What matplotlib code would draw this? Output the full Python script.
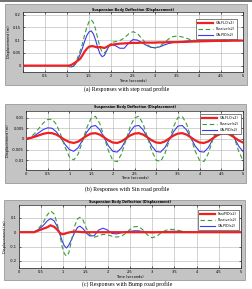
import matplotlib
matplotlib.use("Agg")
import matplotlib.pyplot as plt
from matplotlib.patches import Rectangle
from matplotlib.lines import Line2D

# ---------------- data ----------------
labels = ["GA-FLC(s2)", "Passive(s2)", "GA-PID(s2)"]
labels_c = ["FastPID(s2)", "Passive(s2)", "GA-PID(s2)"]
title_txt = "Suspension Body Deflection (Displacement)"
xlabel_txt = "Time (seconds)"
ylabel_txt = "Displacement (m)"
captions = ["(a) Responses with step road profile",
            "(b) Responses with Sin road profile",
            "(c) Responses with Bump road profile"]

# (a) step
t1 = [0, 0.5, 1.0, 1.05, 1.1, 1.15, 1.2, 1.25, 1.3, 1.35, 1.4, 1.45, 1.5, 1.55, 1.6,
      1.65, 1.7, 1.75, 1.8, 1.85, 1.9, 1.95, 2.0, 2.1, 2.2, 2.3, 2.4, 2.5, 2.6, 2.7,
      2.8, 2.9, 3.0, 3.1, 3.2, 3.3, 3.4, 3.5, 3.6, 3.7, 3.8, 4.0, 4.2, 4.4, 4.6, 4.8, 5.0]
step_flc = [0, 0, 0, 0.0, 0.003, 0.008, 0.014, 0.02, 0.027, 0.04, 0.055, 0.066, 0.074, 0.076, 0.076,
            0.073, 0.071, 0.073, 0.071, 0.069, 0.073, 0.078, 0.081, 0.084, 0.086, 0.087, 0.088, 0.089, 0.089, 0.09,
            0.09, 0.09, 0.09, 0.091, 0.091, 0.092, 0.092, 0.092, 0.093, 0.093, 0.094, 0.095, 0.096, 0.097, 0.097, 0.098, 0.098]
step_pas = [0, 0, 0, -0.003, -0.004, 0.0, 0.012, 0.035, 0.058, 0.085, 0.12, 0.15, 0.172, 0.18, 0.168,
            0.142, 0.105, 0.072, 0.052, 0.05, 0.06, 0.076, 0.09, 0.094, 0.098, 0.108, 0.124, 0.133, 0.126, 0.106,
            0.086, 0.073, 0.069, 0.075, 0.088, 0.103, 0.113, 0.116, 0.113, 0.108, 0.102, 0.096, 0.096, 0.098, 0.1, 0.1, 0.099]
step_pid = [0, 0, 0, -0.004, -0.005, -0.002, 0.008, 0.025, 0.045, 0.068, 0.095, 0.118, 0.132, 0.136, 0.124,
            0.1, 0.07, 0.046, 0.035, 0.04, 0.058, 0.075, 0.085, 0.078, 0.068, 0.068, 0.088, 0.102, 0.1, 0.09,
            0.08, 0.072, 0.07, 0.073, 0.08, 0.086, 0.09, 0.092, 0.094, 0.096, 0.097, 0.097, 0.097, 0.098, 0.098, 0.098, 0.098]

# (b) sin
t2 = [round(0.1 * i, 1) for i in range(51)]
sin_flc = [0, 0.0004, 0.001, 0.0017, 0.0024, 0.0028, 0.0027, 0.002, 0.0008, -0.0005,
           -0.0015, -0.0019, -0.0013, 0.0001, 0.0015, 0.0025, 0.0027, 0.002, 0.0007, -0.0007,
           -0.0017, -0.0019, -0.0012, 0.0002, 0.0016, 0.0025, 0.0027, 0.002, 0.0007, -0.0007,
           -0.0017, -0.0019, -0.0012, 0.0002, 0.0016, 0.0025, 0.0027, 0.002, 0.0007, -0.0007,
           -0.0017, -0.0019, -0.0012, 0.0002, 0.0016, 0.0025, 0.0027, 0.002, 0.0007, -0.0007, -0.0017]
sin_pas = [0, 0.0008, 0.0025, 0.005, 0.0075, 0.0091, 0.0093, 0.0068, 0.002, -0.0038,
           -0.0085, -0.0099, -0.0072, -0.0012, 0.0052, 0.0097, 0.0106, 0.0072, 0.0009, -0.0056,
           -0.0101, -0.0107, -0.0071, -0.0007, 0.0057, 0.0099, 0.0106, 0.007, 0.0007, -0.0057,
           -0.01, -0.0106, -0.007, -0.0007, 0.0058, 0.01, 0.0106, 0.007, 0.0006, -0.0058,
           -0.0101, -0.0106, -0.0069, -0.0006, 0.0058, 0.01, 0.0105, 0.0069, 0.0006, -0.0058, -0.0101]
sin_pid = [0, 0.0005, 0.0015, 0.003, 0.0044, 0.0052, 0.005, 0.0033, 0.0005, -0.0026,
           -0.005, -0.0058, -0.0042, -0.0007, 0.0032, 0.0058, 0.0063, 0.0043, 0.0006, -0.0033,
           -0.0058, -0.0062, -0.0042, -0.0005, 0.0034, 0.006, 0.0063, 0.0042, 0.0005, -0.0034,
           -0.0059, -0.0062, -0.0041, -0.0004, 0.0034, 0.006, 0.0063, 0.0042, 0.0004, -0.0034,
           -0.0059, -0.0062, -0.0041, -0.0004, 0.0034, 0.006, 0.0063, 0.0042, 0.0004, -0.0034, -0.0059]

# (c) bump
t3 = [0, 0.35, 0.45, 0.55, 0.65, 0.72, 0.8, 0.87, 0.93, 0.98, 1.03, 1.08, 1.13,
      1.2, 1.27, 1.33, 1.38, 1.45, 1.52, 1.6, 1.7, 1.8, 1.9, 2.0, 2.1, 2.2, 2.3, 2.4,
      2.5, 2.6, 2.7, 2.8, 2.9, 3.0, 3.1, 3.2, 3.3, 3.4, 3.5, 3.6, 3.7, 3.8, 4.0, 4.5, 5.0]
bump_flc = [0, 0, 0.012, 0.024, 0.035, 0.048, 0.038, 0.018, -0.005, -0.014, -0.012, -0.006, -0.002,
            0.002, 0.004, 0.003, 0.002, 0.0, 0.0, 0.0, 0.0, 0.0, 0.0, 0.0, 0.0, 0.0, 0.0, 0.0,
            0.0, 0.0, 0.0, 0.0, 0.0, 0.0, 0.0, 0.0, 0.0, 0.0, 0.0, 0.0, 0.0, 0.0, 0.0, 0.0, 0.0]
bump_pas = [0, 0, 0.025, 0.065, 0.122, 0.148, 0.128, 0.06, -0.02, -0.1, -0.15, -0.167, -0.145,
            -0.045, 0.05, 0.095, 0.104, 0.085, 0.03, -0.015, -0.035, -0.025, -0.015, -0.018, -0.028, -0.034, -0.03, -0.01,
            0.018, 0.038, 0.04, 0.015, -0.02, -0.039, -0.03, -0.005, 0.012, 0.02, 0.019, 0.012, 0.005, 0.002, 0.0, 0.0, 0.0]
bump_pid = [0, 0, 0.02, 0.045, 0.08, 0.095, 0.08, 0.04, -0.012, -0.06, -0.095, -0.11, -0.09,
            -0.045, 0.005, 0.035, 0.042, 0.025, -0.005, -0.026, -0.025, 0.015, 0.028, 0.015, -0.008, -0.012, -0.005, 0.003,
            0.006, 0.01, 0.01, 0.004, -0.002, -0.004, -0.002, 0.002, 0.004, 0.006, 0.007, 0.006, 0.005, 0.003, 0.001, 0.0, 0.0]

xticks = [0, 0.5, 1, 1.5, 2, 2.5, 3, 3.5, 4, 4.5, 5]
xticklabels_a = ["", "0.5", "1", "1.5", "2", "2.5", "3", "3.5", "4", "4.5", "5"]
xticklabels_bc = ["0", "0.5", "1", "1.5", "2", "2.5", "3", "3.5", "4", "4.5", "5"]
yticks_a = [0, 0.05, 0.1, 0.15, 0.2]
yticks_b = [-0.01, -0.005, 0, 0.005, 0.01]
yticks_c = [-0.2, -0.1, 0, 0.1]

# ---------------- layout ----------------
W, H = 252, 289
fig = plt.figure(figsize=(W / 100, H / 100), dpi=100)
fig.patch.set_facecolor("white")

def fx(x):
    return x / W

def fy(y):
    return 1 - y / H

RED = "#ee2020"
GREEN = "#3a9a3a"
BLUE = "#3a3af0"
GRAY = "#c4c4c4"

# top border line
fig.add_artist(Line2D([0, 1], [fy(0.6), fy(0.6)], color="#555555", lw=1.2, transform=fig.transFigure))

panels = [
    dict(gray=(5, 4, 247, 85), ax=(23, 12, 243, 72), title_y=9.5, xl_y=81.5, cap_y=89.5,
         t=t1, ys=(step_flc, step_pas, step_pid), ylim=(-0.025, 0.21), yticks=yticks_a,
         ytl=["0", "0.05", "0.1", "0.15", "0.2"], xtl=xticklabels_a, labels=labels,
         leg=(237, 19)),
    dict(gray=(5, 104, 246, 183), ax=(26, 111, 243, 170), title_y=107, xl_y=178, cap_y=189,
         t=t2, ys=(sin_flc, sin_pas, sin_pid), ylim=(-0.0146, 0.0131), yticks=yticks_b,
         ytl=["-0.01", "-0.005", "0", "0.005", "0.01"], xtl=xticklabels_bc, labels=labels,
         leg=(241, 114)),
    dict(gray=(4, 200, 245, 280), ax=(18.5, 205, 241, 268), title_y=202, xl_y=277.5, cap_y=284.5,
         t=t3, ys=(bump_flc, bump_pas, bump_pid), ylim=(-0.25, 0.19), yticks=yticks_c,
         ytl=["-0.2", "-0.1", "0", "0.1"], xtl=xticklabels_bc, labels=labels_c,
         leg=(239, 210)),
]

for p in panels:
    gx0, gy0, gx1, gy1 = p["gray"]
    fig.add_artist(Rectangle((fx(gx0), fy(gy1)), fx(gx1 - gx0), (gy1 - gy0) / H,
                             transform=fig.transFigure, facecolor=GRAY,
                             edgecolor="#8a8a8a", lw=0.5, zorder=-5))
    ax0, ay0, ax1, ay1 = p["ax"]
    ax = fig.add_axes([fx(ax0), fy(ay1), fx(ax1 - ax0), (ay1 - ay0) / H])
    ax.set_facecolor("white")
    f, pa, pi = p["ys"]
    ax.plot(p["t"], pi, color=BLUE, lw=0.8, label=p["labels"][2], zorder=3)
    ax.plot(p["t"], pa, color=GREEN, lw=0.8, ls=(0, (4, 2.5)), label=p["labels"][1], zorder=4)
    ax.plot(p["t"], f, color=RED, lw=1.6, label=p["labels"][0], zorder=5)
    ax.set_xlim(0, 5)
    ax.set_ylim(*p["ylim"])
    ax.set_xticks(xticks)
    ax.set_xticklabels(p["xtl"])
    ax.set_yticks(p["yticks"])
    ax.set_yticklabels(p["ytl"])
    ax.tick_params(direction="in", length=1.5, width=0.4, labelsize=2.6, pad=1.5,
                   top=True, right=True)
    ax.grid(True, color="#b0b0b0", lw=0.4)
    for s in ax.spines.values():
        s.set_linewidth(0.5)
        s.set_color("#222222")
    ax.set_ylabel(ylabel_txt, fontsize=2.6, labelpad=1.5)
    # legend
    h, l = ax.get_legend_handles_labels()
    order = [2, 1, 0]
    lx, ly = p["leg"]
    leg = ax.legend([h[i] for i in order], [l[i] for i in order], loc="upper right",
                    bbox_to_anchor=(fx(lx), fy(ly)), bbox_transform=fig.transFigure,
                    fontsize=2.4, frameon=True, fancybox=False, framealpha=1,
                    edgecolor="#222222", handlelength=4.5, handletextpad=0.8,
                    borderpad=0.6, labelspacing=0.6, borderaxespad=0)
    leg.get_frame().set_linewidth(0.4)
    cx = (ax0 + ax1) / 2
    fig.text(fx(cx), fy(p["title_y"]), title_txt, ha="center", va="center",
             fontsize=2.4, fontweight="bold")
    fig.text(fx(cx), fy(p["xl_y"]), xlabel_txt, ha="center", va="center", fontsize=2.6)
    fig.text(fx(127), fy(p["cap_y"]), captions[panels.index(p)], ha="center", va="center",
             fontsize=4.2, family="Liberation Serif")

fig.savefig("out.png", dpi=100)
